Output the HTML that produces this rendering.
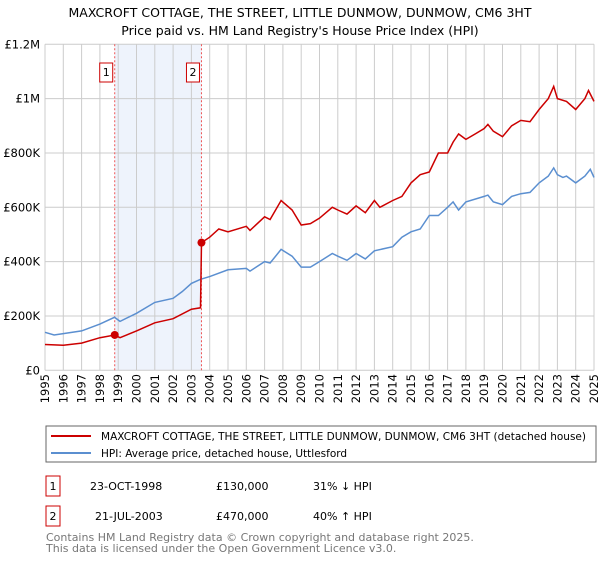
<!DOCTYPE html>
<html><head><meta charset="utf-8"><style>
body{margin:0;background:#fff;font-family:"Liberation Sans","DejaVu Sans",sans-serif;}
svg text{font-family:"DejaVu Sans","Liberation Sans",sans-serif;}
</style></head><body>
<svg width="600" height="560" xmlns="http://www.w3.org/2000/svg" id="chart">
<text x="300" y="17" text-anchor="middle" font-size="12.5">MAXCROFT COTTAGE, THE STREET, LITTLE DUNMOW, DUNMOW, CM6 3HT</text>
<text x="300" y="35" text-anchor="middle" font-size="12.5">Price paid vs. HM Land Registry's House Price Index (HPI)</text>
<g id="plot"></g>
<rect x="46" y="426" width="550" height="36" fill="none" stroke="#666"/>
<line x1="51" y1="436" x2="91" y2="436" stroke="#cc0000" stroke-width="2"/>
<text x="101" y="440" font-size="10.5" textLength="485" lengthAdjust="spacingAndGlyphs">MAXCROFT COTTAGE, THE STREET, LITTLE DUNMOW, DUNMOW, CM6 3HT (detached house)</text>
<line x1="51" y1="453" x2="91" y2="453" stroke="#5b8fd0" stroke-width="2"/>
<text x="101" y="457" font-size="10.5">HPI: Average price, detached house, Uttlesford</text>
<rect x="46" y="476" width="14" height="20" fill="none" stroke="#cc0000"/>
<text x="53" y="490" text-anchor="middle" font-size="11">1</text>
<text x="90" y="490" font-size="11">23-OCT-1998</text>
<text x="216" y="490" font-size="11">£130,000</text>
<text x="313" y="490" font-size="11">31% ↓ HPI</text>
<rect x="46" y="506" width="14" height="20" fill="none" stroke="#cc0000"/>
<text x="53" y="520" text-anchor="middle" font-size="11">2</text>
<text x="95" y="520" font-size="11">21-JUL-2003</text>
<text x="216" y="520" font-size="11">£470,000</text>
<text x="313" y="520" font-size="11">40% ↑ HPI</text>
<text x="46" y="541" font-size="11" fill="#777">Contains HM Land Registry data © Crown copyright and database right 2025.</text>
<text x="46" y="552" font-size="11" fill="#777">This data is licensed under the Open Government Licence v3.0.</text>
</svg>
<script>
const yTicks=[0,200000,400000,600000,800000,1000000,1200000];
const yTickLabels=["£0","£200K","£400K","£600K","£800K","£1M","£1.2M"];
const xYears=[1995,1996,1997,1998,1999,2000,2001,2002,2003,2004,2005,2006,2007,2008,2009,2010,2011,2012,2013,2014,2015,2016,2017,2018,2019,2020,2021,2022,2023,2024,2025];
const hpiT=[1995,1995.5,1996,1997,1998,1998.8,1999.1,2000,2001,2002,2002.5,2003,2003.5,2004,2005,2006,2006.2,2007,2007.3,2007.9,2008.5,2009,2009.5,2010,2010.7,2011,2011.5,2012,2012.5,2013,2014,2014.5,2015,2015.5,2016,2016.5,2017,2017.3,2017.6,2018,2019,2019.2,2019.5,2020,2020.5,2021,2021.5,2022,2022.5,2022.8,2023,2023.3,2023.5,2024,2024.5,2024.8,2025];
const hpiV=[140,130,135,145,170,195,180,210,250,265,290,320,335,345,370,375,365,400,395,445,420,380,380,400,430,420,405,430,410,440,455,490,510,520,570,570,600,620,590,620,640,645,620,610,640,650,655,690,715,745,720,710,715,690,715,740,710];
const priceT=[1995,1996,1997,1998,1998.81,1999.1,2000,2001,2002,2003,2003.5,2003.55,2004,2004.5,2005,2006,2006.2,2007,2007.3,2007.9,2008.5,2009,2009.5,2010,2010.7,2011,2011.5,2012,2012.5,2013,2013.3,2014,2014.5,2015,2015.5,2016,2016.5,2017,2017.3,2017.6,2018,2018.5,2019,2019.2,2019.5,2020,2020.5,2021,2021.5,2022,2022.5,2022.8,2023,2023.5,2024,2024.5,2024.7,2025];
const priceV=[95,92,100,120,130,120,145,175,190,225,230,470,490,520,510,530,515,565,555,625,590,535,540,560,600,590,575,605,580,625,600,625,640,690,720,730,800,800,840,870,850,870,890,905,880,860,900,920,915,960,1000,1045,1000,990,960,1000,1030,990];
const saleT=[1998.81,2003.55];
const saleV=[130,470];
const saleLabels=["1","2"];
const NS="http://www.w3.org/2000/svg";
const X0=45,X1=594,Y0=370.3,Y1=44.3;
const xs=t=>X0+(t-1995)/30*(X1-X0);
const ys=v=>Y0-v/1200000*(Y0-Y1);
const g=document.getElementById('plot');
function mk(tag,attrs){const e=document.createElementNS(NS,tag);for(const k in attrs)e.setAttribute(k,attrs[k]);g.appendChild(e);return e;}
let e=mk('rect',{x:xs(saleT[0]),y:Y1,width:xs(saleT[1])-xs(saleT[0]),height:Y0-Y1,fill:'#eef3fc'});


yTicks.forEach((v,i)=>{
 let l=mk('line',{x1:X0,x2:X1,y1:ys(v),y2:ys(v),stroke:'#ccc'});
 
 
 let t=mk('text',{x:X0-5,y:ys(v)+4,'text-anchor':'end','font-size':'11.5'});t.textContent=yTickLabels[i];
 
 
});
xYears.forEach(yr=>{
 let l=mk('line',{x1:xs(yr),x2:xs(yr),y1:Y1,y2:Y0,stroke:'#ccc'});
 
 
 let t=mk('text',{x:0,y:0,'font-size':'11.5','text-anchor':'end',transform:`translate(${xs(yr)+4},374) rotate(-90)`});t.textContent=yr;
 
 
});
saleT.forEach((t,i)=>{
 let l=mk('line',{x1:xs(t),x2:xs(t),y1:Y1,y2:Y0,stroke:'#e55','stroke-dasharray':'2,2'});
 
 
 let r=mk('rect',{x:xs(t)-15,y:63,width:13,height:19,fill:'#fff',stroke:'#cc0000'});
 
 
 let tx=mk('text',{x:xs(t)-8.5,y:76,'text-anchor':'middle','font-size':'11'});tx.textContent=saleLabels[i];
 
 
});
const path=(T,V)=>T.map((t,i)=>(i?'L':'M')+xs(t).toFixed(1)+','+ys(V[i]*1000).toFixed(1)).join('');
let hp=mk('path',{d:path(hpiT,hpiV),fill:'none',stroke:'#5b8fd0','stroke-width':1.5});


let pp=mk('path',{d:path(priceT,priceV),fill:'none',stroke:'#cc0000','stroke-width':1.5});


saleT.forEach((t,i)=>{
 let c=mk('circle',{cx:xs(t),cy:ys(saleV[i]*1000),r:4,fill:'#cc0000'});
 
 
});
</script>
</body></html>
